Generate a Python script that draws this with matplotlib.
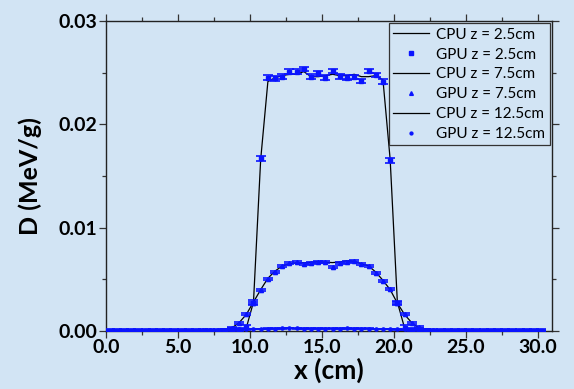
import numpy as np
import matplotlib
matplotlib.use('Agg')
import matplotlib.pyplot as plt
from matplotlib.ticker import MultipleLocator, FormatStrFormatter

# ── Depth-dose profiles: CPU (lines) vs GPU (points with error bars) ──
x = [0.25, 0.75, 1.25, 1.75, 2.25, 2.75, 3.25, 3.75, 4.25, 4.75,
     5.25, 5.75, 6.25, 6.75, 7.25, 7.75, 8.25, 8.75, 9.25, 9.75,
     10.25, 10.75, 11.25, 11.75, 12.25, 12.75, 13.25, 13.75, 14.25, 14.75,
     15.25, 15.75, 16.25, 16.75, 17.25, 17.75, 18.25, 18.75, 19.25, 19.75,
     20.25, 20.75, 21.25, 21.75, 22.25, 22.75, 23.25, 23.75, 24.25, 24.75,
     25.25, 25.75, 26.25, 26.75, 27.25, 27.75, 28.25, 28.75, 29.25, 29.75,
     30.25]

labels = ['z = 2.5cm', 'z = 7.5cm', 'z = 12.5cm']

gpu_25 = [0.0, 0.0, 0.0, 0.0, 0.0, 0.0, 0.0, 0.0, 0.0, 0.0,
          0.0, 0.0, 0.0, 0.0, 0.0, 0.00001, 0.00002, 0.00004, 0.00008, 0.00035,
          0.00275, 0.0167, 0.02451, 0.02445, 0.02461, 0.02510, 0.02510, 0.02536, 0.02461, 0.02494,
          0.02451, 0.02516, 0.02465, 0.02451, 0.02458, 0.02419, 0.02516, 0.02477, 0.02413, 0.0165,
          0.0027, 0.00033, 0.00008, 0.00003, 0.00001, 0.0, 0.0, 0.0, 0.0, 0.0,
          0.0, 0.0, 0.0, 0.0, 0.0, 0.0, 0.0, 0.0, 0.0, 0.0,
          0.0]
cpu_25 = [0.0, 0.0, 0.0, 0.0, 0.0, 0.0, 0.0, 0.0, 0.0, 0.0,
          0.0, 0.0, 0.0, 0.0, 0.0, 0.00001, 0.00002, 0.00004, 0.00008, 0.0003,
          0.0028, 0.0166, 0.02413, 0.02451, 0.02471, 0.02484, 0.02484, 0.02510, 0.02461, 0.02461,
          0.02471, 0.02484, 0.02471, 0.02471, 0.02484, 0.02461, 0.02461, 0.02471, 0.02429, 0.0166,
          0.0028, 0.0003, 0.00008, 0.00003, 0.00001, 0.0, 0.0, 0.0, 0.0, 0.0,
          0.0, 0.0, 0.0, 0.0, 0.0, 0.0, 0.0, 0.0, 0.0, 0.0,
          0.0]

gpu_75 = [0.0, 0.0, 0.0, 0.0, 0.0, 0.0, 0.0, 0.0, 0.0, 0.0,
          0.0, 0.0, 0.0, 0.0, 0.00001, 0.00003, 0.0001, 0.00032, 0.00076, 0.00164,
          0.00274, 0.00397, 0.00506, 0.00574, 0.00632, 0.00655, 0.00668, 0.00645, 0.00661, 0.00668,
          0.00665, 0.00622, 0.00661, 0.00671, 0.0068, 0.00648, 0.00632, 0.00564, 0.00484, 0.00406,
          0.00268, 0.00164, 0.0008, 0.00036, 0.0001, 0.00003, 0.00001, 0.0, 0.0, 0.0,
          0.0, 0.0, 0.0, 0.0, 0.0, 0.0, 0.0, 0.0, 0.0, 0.0,
          0.0]
cpu_75 = [0.0, 0.0, 0.0, 0.0, 0.0, 0.0, 0.0, 0.0, 0.0, 0.0,
          0.0, 0.0, 0.0, 0.0, 0.00001, 0.00003, 0.0001, 0.0003, 0.0008, 0.0016,
          0.0028, 0.0040, 0.0051, 0.0058, 0.0063, 0.0065, 0.0066, 0.0066, 0.00665, 0.0067,
          0.00665, 0.00662, 0.00668, 0.0068, 0.00675, 0.0065, 0.0063, 0.0057, 0.0049, 0.0040,
          0.0027, 0.0016, 0.0008, 0.0003, 0.0001, 0.00003, 0.00001, 0.0, 0.0, 0.0,
          0.0, 0.0, 0.0, 0.0, 0.0, 0.0, 0.0, 0.0, 0.0, 0.0,
          0.0]

gpu_125 = [0.00001, 0.00001, 0.00001, 0.00001, 0.00001, 0.00001, 0.00001, 0.00002, 0.00002, 0.00002,
           0.00003, 0.00003, 0.00004, 0.00005, 0.00007, 0.0001, 0.00012, 0.00015, 0.00017, 0.00018,
           0.0002, 0.00021, 0.00022, 0.00024, 0.00026, 0.0003, 0.00025, 0.00024, 0.00023, 0.00024,
           0.00023, 0.00024, 0.00023, 0.00025, 0.00024, 0.00023, 0.00022, 0.00021, 0.0002, 0.00018,
           0.00017, 0.00015, 0.00012, 0.0001, 0.00007, 0.00005, 0.00004, 0.00003, 0.00003, 0.00002,
           0.00002, 0.00002, 0.00001, 0.00001, 0.00001, 0.00001, 0.00001, 0.00001, 0.00001, 0.00001,
           0.00001]
cpu_125 = [0.00001, 0.00001, 0.00001, 0.00001, 0.00001, 0.00001, 0.00001, 0.00002, 0.00002, 0.00002,
           0.00003, 0.00003, 0.00004, 0.00005, 0.00007, 0.0001, 0.00012, 0.00015, 0.00017, 0.00018,
           0.0002, 0.00021, 0.00022, 0.00023, 0.00024, 0.00025, 0.00025, 0.00024, 0.00024, 0.00024,
           0.00024, 0.00024, 0.00024, 0.00024, 0.00024, 0.00023, 0.00022, 0.00021, 0.0002, 0.00018,
           0.00017, 0.00015, 0.00012, 0.0001, 0.00007, 0.00005, 0.00004, 0.00003, 0.00003, 0.00002,
           0.00002, 0.00002, 0.00001, 0.00001, 0.00001, 0.00001, 0.00001, 0.00001, 0.00001, 0.00001,
           0.00001]

# estimated statistical uncertainty of each GPU profile
gpu_err = [0.00022, 0.0001, 0.00003]

bg = '#d2e4f4'
blue = '#0a14ff'
plt.rcParams['font.family'] = ['Lato', 'DejaVu Sans']

fig = plt.figure(figsize=(5.74, 3.89), dpi=100, facecolor=bg)
ax = fig.add_axes([0.1847, 0.1491, 0.777, 0.797])
ax.set_facecolor(bg)

cpu_sets = [cpu_25, cpu_75, cpu_125]
gpu_sets = [gpu_25, gpu_75, gpu_125]
markers = ['s', '^', 'o']
msizes = [2.6, 3.0, 2.3]

for cpu, gpu, lab, m, ms, e in zip(cpu_sets, gpu_sets, labels, markers, msizes, gpu_err):
    ax.plot(x, cpu, color='black', lw=0.9, label='CPU ' + lab, zorder=2)
    ax.errorbar(x, gpu, yerr=e, fmt='none', ecolor=blue, elinewidth=1.0,
                capsize=3.5, capthick=1.2, zorder=3)
    ax.plot(x, gpu, ls='none', marker=m, ms=ms, color=blue, mec=blue,
            label='GPU ' + lab, zorder=4)

ax.set_xlim(0, 31)
ax.set_ylim(0, 0.03)
ax.xaxis.set_major_locator(MultipleLocator(5))
ax.xaxis.set_minor_locator(MultipleLocator(2.5))
ax.yaxis.set_major_locator(MultipleLocator(0.01))
ax.yaxis.set_minor_locator(MultipleLocator(0.005))
ax.xaxis.set_major_formatter(FormatStrFormatter('%.1f'))
ax.yaxis.set_major_formatter(FormatStrFormatter('%.2f'))

ax.tick_params(which='both', direction='out', top=True, right=True, colors='#333333',
               labelcolor='black', width=0.9)
ax.tick_params(which='major', length=5, pad=1)
ax.tick_params(which='minor', length=3)
for lbl in ax.get_xticklabels() + ax.get_yticklabels():
    lbl.set_fontsize(14)
    lbl.set_fontweight('bold')
for sp in ax.spines.values():
    sp.set_color('#222222')
    sp.set_linewidth(1.0)

ax.set_xlabel('x (cm)', fontsize=19, fontweight='bold', labelpad=1)
ax.set_ylabel('D (MeV/g)', fontsize=18, fontweight='bold', labelpad=12)

leg = ax.legend(loc='upper right', fontsize=11, frameon=True, fancybox=False,
                borderaxespad=0.15, handlelength=2.3, handletextpad=0.5,
                labelspacing=0.38, borderpad=0.3, markerscale=0.9)
leg.get_frame().set_facecolor(bg)
leg.get_frame().set_edgecolor('#333333')
leg.get_frame().set_linewidth(0.9)
leg.get_frame().set_alpha(1)

fig.savefig('out.png', dpi=100, facecolor=bg)
